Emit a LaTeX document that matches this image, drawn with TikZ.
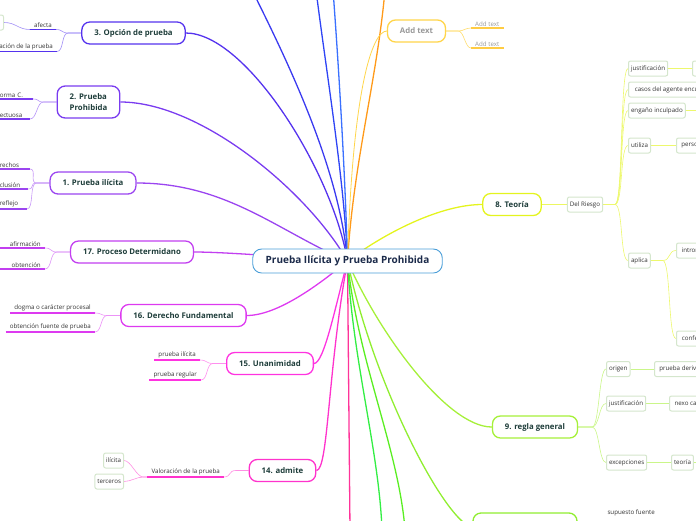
\documentclass[tikz,border=0pt]{standalone}
\usepackage{fontspec}
\setmainfont{Open Sans}
\usetikzlibrary{positioning}
\pgfdeclarelayer{bg}
\pgfsetlayers{bg,main}
\definecolor{ink}{HTML}{1E3D3A}
\definecolor{rootc}{HTML}{4A9ED8}
\definecolor{rootink}{HTML}{1B2A4A}
\definecolor{opc}{HTML}{5533EE}
\definecolor{proh}{HTML}{7A3CF0}
\definecolor{ilic}{HTML}{9B45F0}
\definecolor{proc}{HTML}{C23FF0}
\definecolor{dere}{HTML}{DD3AF0}
\definecolor{unan}{HTML}{FF33E0}
\definecolor{admi}{HTML}{FF33CC}
\definecolor{pinkc}{HTML}{FF3399}
\definecolor{blueA}{HTML}{3A3AF0}
\definecolor{blueB}{HTML}{2E44F5}
\definecolor{blueC}{HTML}{3A70FF}
\definecolor{orng}{HTML}{FF9A1A}
\definecolor{addc}{HTML}{FFD54A}
\definecolor{teor}{HTML}{E4F41E}
\definecolor{regl}{HTML}{A6F03A}
\definecolor{grnA}{HTML}{33EE44}
\definecolor{grnB}{HTML}{5AEE22}
\definecolor{diez}{HTML}{90EE30}
\definecolor{boxc}{HTML}{D4E6CC}

\begin{document}
\begin{tikzpicture}[x=1pt, y=-1pt,
  rootbox/.style={draw=rootc, line width=0.9pt, rounded corners=9pt, fill=white, minimum height=24pt, inner xsep=13pt, font=\fontsize{10}{12}\selectfont\bfseries, text=rootink},
  topic/.style={draw=#1, line width=1.3pt, rounded corners=8pt, fill=white, minimum height=22pt, inner xsep=12.5pt, inner ysep=2pt, font=\fontsize{7.8}{11}\selectfont\bfseries, text=ink},
  leaf/.style={font=\fontsize{6.2}{7}\selectfont, text=black!80, inner xsep=4pt, inner ysep=1.6pt, align=right, append after command={(\tikzlastnode.south west) edge[draw=#1, line width=1.4pt] (\tikzlastnode.south east)}},
  box/.style={draw=boxc, line width=1pt, rounded corners=2pt, fill=white, minimum height=15pt, inner xsep=2.5pt, font=\fontsize{6.2}{7}\selectfont, text=black!80},
  br/.style={draw=#1, line width=1.3pt},
  sub/.style={draw=#1, line width=0.6pt}]
\useasboundingbox (0,0) rectangle (696,520);
\clip (0,0) rectangle (696,520);

% centre
\node[rootbox] (root) at (347.5,261) {Prueba Ilícita y Prueba Prohibida};

% left side
\node[topic=opc] (opcion) at (133.5,33) {3. Opción de prueba};
\node[topic=proh, align=left, minimum height=32pt] (prohib) at (88.5,102) {2. Prueba\\Prohibida};
\node[topic=ilic] (ilicita) at (93,183) {1. Prueba ilícita};
\node[topic=proc] (proceso) at (132,252) {17. Proceso Determidano};
\node[topic=dere] (derecho) at (183.5,315.5) {16. Derecho Fundamental};
\node[topic=unan] (unanim) at (270,363.5) {15. Unanimidad};
\node[topic=admi] (admite) at (282.5,470.5) {14. admite};

\node[leaf=opc, anchor=south east] (afecta) at (56,29.5) {afecta};
\node[box, anchor=east, minimum width=24pt] (afectabox) at (4,22.5) {};
\node[leaf=opc, anchor=south east] (valor3) at (57,51.5) {ación de la prueba};
\node[leaf=proh, anchor=south east, text width=29pt, align=left] (forma) at (33,99) {orma C.};
\node[leaf=proh, anchor=south east, text width=26pt, align=left] (defect) at (30,119) {ectuosa};
\node[leaf=ilic, anchor=south east, text width=26pt, align=left] (derechos) at (30,169) {rechos};
\node[leaf=ilic, anchor=south east, text width=24pt, align=left] (exclusion) at (28,189) {clusión};
\node[leaf=ilic, anchor=south east, text width=23pt, align=left] (reflejo) at (27,209) {reflejo};
\node[leaf=proc, anchor=south east, text width=41pt] (afirm) at (45,248) {afirmación};
\node[leaf=proc, anchor=south east, text width=41pt] (obten) at (45,269) {obtención};
\node[leaf=dere, anchor=south east] (dogma) at (95,313) {dogma o carácter procesal};
\node[leaf=dere, anchor=south east] (fuente) at (95,332) {obtención fuente de prueba};
\node[leaf=unan, anchor=south east] (pilicita) at (200,360) {prueba ilícita};
\node[leaf=unan, anchor=south east] (pregular) at (201,380) {prueba regular};
\node[leaf=admi, anchor=south east] (valor14) at (224,477) {Valoración de la prueba};
\node[box, anchor=east] (ilicbox) at (124,460.5) {ilícita};
\node[box, anchor=east] (tercbox) at (124,481.5) {terceros};

% right side
\node[topic=addc, text=black!40] (addt) at (416.5,31) {Add text};
\node[leaf=addc!90!orange, anchor=south west, text=black!40] (addA) at (471,28) {Add text};
\node[leaf=addc!90!orange, anchor=south west, text=black!40] (addB) at (471,48) {Add text};

\node[topic=teor] (teoria) at (512,204.5) {8. Teoría};
\node[box] (riesgo) at (585,204.5) {Del Riesgo};
\node[box, anchor=west] (justT) at (628,68.5) {justificación};
\node[box, anchor=west, minimum width=80pt, align=left] (casos) at (628,89.5) {casos del agente encub};
\node[box, anchor=west] (engano) at (628,110.5) {engaño inculpado};
\node[box, anchor=west] (utiliza) at (628,145.5) {utiliza};
\node[box, anchor=west] (aplica) at (628,260.5) {aplica};
\node[box, anchor=west, minimum width=24pt] (cT) at (692,68.5) {c};
\node[box, anchor=west, minimum width=30pt] (persona) at (676,145.5) {person};
\node[box, anchor=west, minimum width=30pt] (intro) at (676,250.5) {introm};
\node[box, anchor=west, minimum width=30pt] (confes) at (676,338.5) {confes};
\coordinate (engX) at (700,110.5);

\node[topic=regl] (regla) at (535,427) {9. regla general};
\node[box, anchor=west] (origen) at (606,369) {origen};
\node[box, anchor=west] (justR) at (606,403.5) {justificación};
\node[box, anchor=west] (excep) at (606,462.5) {excepciones};
\node[box, anchor=west, minimum width=50pt] (deriva) at (654,369) {prueba deriva};
\node[box, anchor=west, minimum width=35pt] (nexo) at (669,403.5) {nexo cas};
\node[box, anchor=west] (teoriaR) at (671,462.5) {teoría};
\coordinate (teorX) at (700,462.5);

\node[topic=diez, minimum width=104pt, minimum height=30pt] (diez) at (525,528) {};
\node[font=\fontsize{6.2}{7}\selectfont, text=black!80, anchor=west] (supuesto) at (604,513) {supuesto fuente};

% branches leaving the page
\coordinate (upA) at (252,-10);
\coordinate (upB) at (316,-10);
\coordinate (upC) at (333,-10);
\coordinate (upD) at (385,-10);
\coordinate (downP) at (350,530);
\coordinate (downG) at (382,530);
\coordinate (downH) at (405,530);

\begin{pgfonlayer}{bg}
\draw[br=blueA] (upA) .. controls +(40,80) and +(-8,-90) .. (root.center);
\draw[br=blueB] (upB) .. controls +(10,80) and +(-3,-80) .. (root.center);
\draw[br=blueC] (upC) .. controls +(6,80) and +(-2,-80) .. (root.center);
\draw[br=orng] (upD) .. controls +(-8,90) and +(6,-100) .. (root.center);
\draw[br=addc, line width=0.8pt] (addt.west) .. controls +(-15,0) and +(5,-170) .. (root.center);
\draw[br=opc] (opcion.east) .. controls +(60,0) and +(-15,-90) .. (root.center);
\draw[br=proh] (prohib.east) .. controls +(80,0) and +(-40,-70) .. (root.center);
\draw[br=ilic] (ilicita.east) .. controls +(90,0) and +(-70,-30) .. (root.center);
\draw[br=proc] (proceso.east) .. controls +(30,0) and +(-60,-4) .. (root.center);
\draw[br=dere] (derecho.east) .. controls +(30,0) and +(-30,25) .. (root.center);
\draw[br=unan] (unanim.east) .. controls +(10,0) and +(-12,45) .. (root.center);
\draw[br=admi] (admite.east) .. controls +(12,0) and +(-20,110) .. (root.center);
\draw[br=pinkc] (root.center) -- (downP);
\draw[br=grnA] (root.center) .. controls +(5,100) and +(-3,-80) .. (downG);
\draw[br=grnB] (root.center) .. controls +(10,100) and +(-6,-80) .. (downH);
\draw[br=diez] (diez.west) .. controls +(-30,-10) and +(25,120) .. (root.center);
\draw[br=regl] (regla.west) .. controls +(-45,0) and +(30,70) .. (root.center);
\draw[br=teor] (teoria.west) .. controls +(-40,0) and +(40,-30) .. (root.center);

% left leaves
\foreach \p/\c/\col in {opcion/afecta/opc, opcion/valor3/opc, prohib/forma/proh, prohib/defect/proh,
    ilicita/derechos/ilic, ilicita/exclusion/ilic, ilicita/reflejo/ilic, proceso/afirm/proc, proceso/obten/proc,
    derecho/dogma/dere, derecho/fuente/dere, unanim/pilicita/unan, unanim/pregular/unan, admite/valor14/admi}
  \draw[sub=\col!55] (\p.west) -- ++(-13,0) .. controls +(-7,0) and +(7,0) .. (\c.south east);
\draw[sub=opc!55] (afecta.south west) .. controls +(-12,0) and +(12,0) .. (afectabox.east);
\foreach \c in {ilicbox, tercbox}
  \draw[sub=admi!55] (valor14.south west) -- ++(-4,0) .. controls +(-7,0) and +(7,0) .. (\c.east);

% right leaves
\foreach \c in {addA, addB}
  \draw[sub=addc!80] (addt.east) -- ++(12,0) .. controls +(6,0) and +(-6,0) .. (\c.south west);
\draw[sub=teor!70] (teoria.east) -- (riesgo.west);
\foreach \c in {justT, casos, engano, utiliza, aplica}
  \draw[sub=teor!65] (riesgo.east) -- ++(12,0) .. controls +(8,0) and +(-8,0) .. (\c.west);
\draw[sub=teor!65] (justT.east) -- (cT.west);
\draw[sub=teor!65] (engano.east) -- (engX);
\draw[sub=teor!65] (utiliza.east) -- (persona.west);
\foreach \c in {intro, confes}
  \draw[sub=teor!65] (aplica.east) -- ++(12,0) .. controls +(8,0) and +(-8,0) .. (\c.west);
\foreach \c in {origen, justR, excep}
  \draw[sub=regl!60] (regla.east) -- ++(14,0) .. controls +(7,0) and +(-7,0) .. (\c.west);
\draw[sub=regl!60] (origen.east) -- (deriva.west);
\draw[sub=regl!60] (justR.east) -- (nexo.west);
\draw[sub=regl!60] (excep.east) -- (teoriaR.west);
\draw[sub=regl!60] (teoriaR.east) -- (teorX);
\end{pgfonlayer}
\end{tikzpicture}
\end{document}
